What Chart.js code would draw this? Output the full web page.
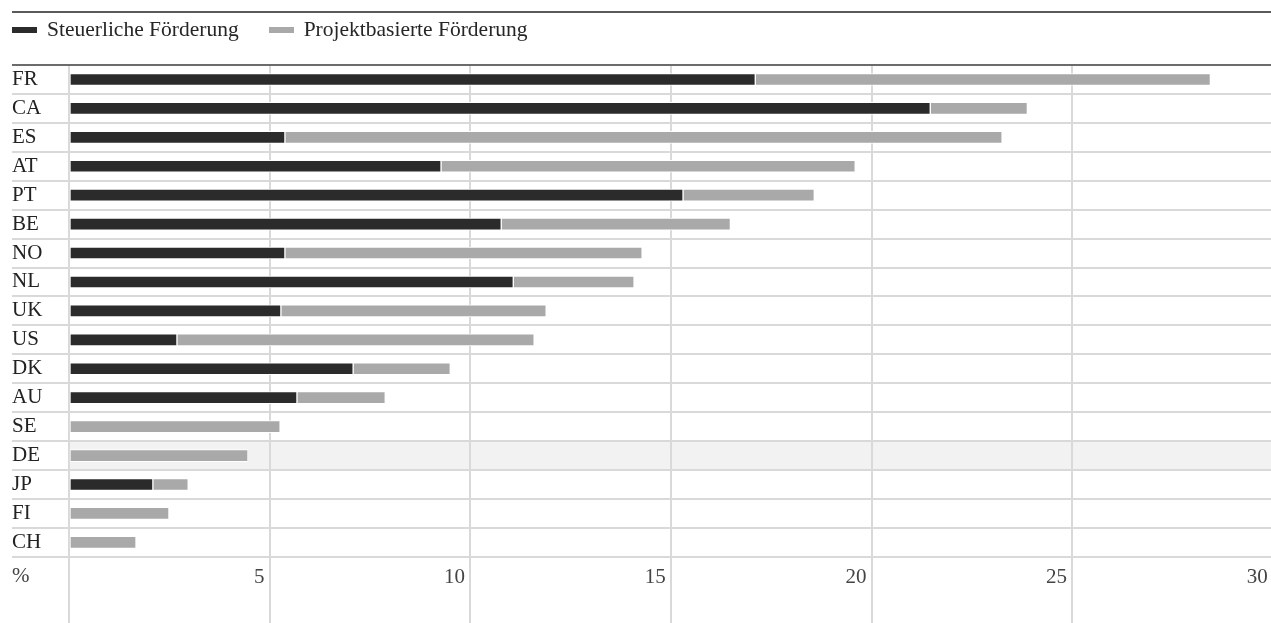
<!DOCTYPE html>
<html lang="de">
<head>
<meta charset="utf-8">
<script src="https://cdn.jsdelivr.net/npm/chart.js@4.4.1/dist/chart.umd.min.js"></script>
<style>
html, body { margin: 0; padding: 0; background: #fff; overflow: hidden; width: 1271px; height: 623px; }
#wrap { position: relative; width: 1271px; height: 623px; overflow: hidden; }
#topline { position: absolute; left: 12px; right: 0; top: 11px; border-top: 2px solid #5a5a5a; }
#legend { position: absolute; left: 12px; top: 17px; font-family: 'Liberation Serif', serif; font-size: 21.5px; color: #262626; line-height: 24px; white-space: nowrap; }
.item { display: inline-block; margin-right: 30px; }
.box { display: inline-block; width: 25px; height: 6px; vertical-align: middle; margin-right: 10px; position: relative; top: -1px; }
canvas { position: absolute; left: 0; top: 0; }
</style>
</head>
<body>
<div id="wrap">
  <canvas id="foerderChart" width="1273" height="623"></canvas>
  <div id="topline"></div>
  <div id="legend"></div>
</div>
<script>
// Daten (% )
const laender = ['FR', 'CA', 'ES', 'AT', 'PT', 'BE', 'NO', 'NL', 'UK', 'US', 'DK', 'AU', 'SE', 'DE', 'JP', 'FI', 'CH'];
const steuerlich = [17.1, 21.46, 5.38, 9.27, 15.3, 10.77, 5.38, 11.07, 5.28, 2.69, 7.08, 5.68, 0, 0, 2.09, 0, 0];
const projektbasiert = [11.34, 2.42, 17.87, 10.32, 3.27, 5.71, 8.9, 3.01, 6.61, 8.9, 2.42, 2.2, 5.26, 4.46, 0.88, 2.49, 1.67];
const serienNamen = ['Steuerliche Förderung', 'Projektbasierte Förderung'];
const serienFarben = ['#2b2b2b', '#a9a9a9'];
const achsenEinheit = '%';
const markiertesLand = 'DE';

const schrift = "'Liberation Serif', 'Times New Roman', serif";
const gridFarbe = '#d9d9d9';
const tickAbstand = 8;

// Legende als HTML
document.getElementById('legend').innerHTML = serienNamen.map((n, i) =>
  `<span class="item"><span class="box" style="background:${serienFarben[i]}"></span>${n}</span>`
).join('');

// Zusatz: Hervorhebung DE, Linien, %-Zeichen
const deko = {
  id: 'deko',
  beforeDraw(chart) {
    const { ctx, chartArea, scales: { y } } = chart;
    const i = laender.indexOf(markiertesLand);
    const h = y.getPixelForValue(1) - y.getPixelForValue(0);
    const c = y.getPixelForValue(i);
    ctx.save();
    ctx.fillStyle = '#f1f2f1';
    ctx.fillRect(chartArea.left, c - h / 2, chart.width - chartArea.left, h);
    ctx.restore();
  },
  beforeDatasetsDraw(chart) {
    const { ctx, chartArea, scales: { x, y } } = chart;
    ctx.save();
    ctx.strokeStyle = gridFarbe;
    ctx.lineWidth = 2;
    x.ticks.forEach(t => {
      const px = Math.round(x.getPixelForValue(t.value));
      ctx.beginPath();
      ctx.moveTo(px, chartArea.bottom);
      ctx.lineTo(px, chart.height);
      ctx.stroke();
    });
    ctx.strokeStyle = '#6b6b6b';
    ctx.beginPath();
    ctx.moveTo(y.left, chartArea.top);
    ctx.lineTo(chart.width, chartArea.top);
    ctx.stroke();
    ctx.fillStyle = '#444';
    ctx.font = '21px ' + schrift;
    ctx.textAlign = 'left';
    ctx.textBaseline = 'middle';
    ctx.fillText(achsenEinheit, y.left, chartArea.bottom + tickAbstand + 12);
    ctx.restore();
  }
};

Chart.defaults.font.family = schrift;
Chart.defaults.font.size = 21;
Chart.defaults.color = '#333';

new Chart(document.getElementById('foerderChart'), {
  type: 'bar',
  data: {
    labels: laender,
    datasets: [
      { label: serienNamen[0], data: steuerlich, backgroundColor: serienFarben[0] },
      { label: serienNamen[1], data: projektbasiert, backgroundColor: serienFarben[1] }
    ]
  },
  options: {
    indexAxis: 'y',
    responsive: false,
    animation: false,
    layout: { padding: { left: 12, top: 65, right: 0, bottom: 25 } },
    datasets: { bar: { barThickness: 12, borderWidth: 1, borderColor: '#fff', borderSkipped: false } },
    plugins: { legend: { display: false }, tooltip: { enabled: false } },
    scales: {
      x: {
        stacked: true, min: 0, max: 30,
        border: { display: false },
        grid: { color: gridFarbe, lineWidth: 2, drawTicks: false },
        ticks: {
          stepSize: 5, align: 'end', padding: tickAbstand, color: '#444',
          maxRotation: 0, autoSkip: false,
          callback: (v) => v === 0 ? '' : v + ' '
        },
        afterFit: (scale) => { scale.paddingLeft = 0; scale.paddingRight = 0; }
      },
      y: {
        stacked: true,
        border: { display: false },
        grid: { color: gridFarbe, lineWidth: 2, tickLength: 57, offset: true },
        ticks: { crossAlign: 'far', padding: 0, color: '#222', autoSkip: false },
        afterFit: (scale) => { scale.width = 57; }
      }
    }
  },
  plugins: [deko]
});
</script>
</body>
</html>
